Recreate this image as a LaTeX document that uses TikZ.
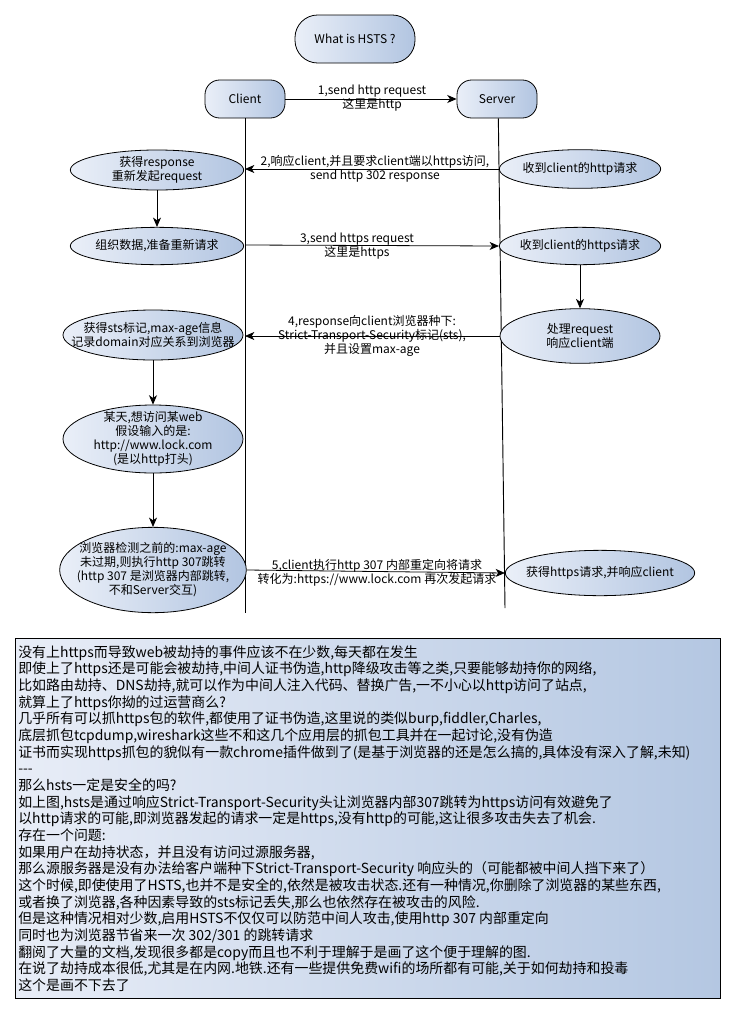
\documentclass[tikz,border=0pt]{standalone}
\usepackage{fontspec}
\setmainfont{Noto Sans CJK SC}
\usetikzlibrary{arrows.meta,shapes.geometric}
\definecolor{gl}{RGB}{234,239,248}
\definecolor{gr}{RGB}{178,197,225}
\definecolor{bl}{RGB}{232,237,247}
\definecolor{br}{RGB}{180,199,226}
\begin{document}
\begin{tikzpicture}[x=0.75pt,y=-0.75pt,
  ell/.style={ellipse, draw=black, line width=0.6pt, left color=gl, right color=gr, inner sep=0pt},
  rbox/.style={rectangle, draw=black, line width=0.6pt, left color=gl, right color=gr},
  txt/.style={font=\fontsize{9}{10.5}\selectfont, align=center, inner sep=0pt},
  lbl/.style={font=\fontsize{9}{10.5}\selectfont, align=center, inner sep=0pt},
  arr/.style={-{Stealth[length=7pt,width=6pt,inset=2pt]}, line width=0.6pt},
  life/.style={line width=0.7pt}
]
\useasboundingbox (0,0) rectangle (735,1010);
% title and actors
\node[rbox, rounded corners=17pt, minimum width=90pt, minimum height=36pt, txt] (title) at (355,39) {What is HSTS ?};
\node[rbox, rounded corners=11pt, minimum width=60pt, minimum height=28.5pt, txt] (Client) at (245,99) {Client};
\node[rbox, rounded corners=11pt, minimum width=60pt, minimum height=28.5pt, txt] (Server) at (497,99) {Server};
% lifelines
\coordinate (cEnd) at (245,613);
\coordinate (sEnd) at (505,608);
\draw[life] (Client.south) -- (cEnd);
\draw[life] ([xshift=1pt]Server.south) -- (sEnd);
\coordinate (c2) at (245,169);
\coordinate (c3) at (245,245);
\coordinate (c4) at (245,336);
% left ellipses
\node[ell, minimum width=130pt, minimum height=30pt] (L1) at (157,170) {};
\node[txt] at (L1) {获得response\\重新发起request};
\node[ell, minimum width=130pt, minimum height=28pt] (L2) at (157,246) {};
\node[txt] at (L2) {组织数据,准备重新请求};
\node[ell, minimum width=135pt, minimum height=37.5pt] (L3) at (153,335) {};
\node[txt] at (L3) {获得sts标记,max-age信息\\记录domain对应关系到浏览器};
\node[ell, minimum width=135pt, minimum height=51pt] (L4) at (153,439) {};
\node[txt] at (L4) {某天,想访问某web\\假设输入的是:\\http://www.lock.com\\(是以http打头)};
\node[ell, minimum width=140pt, minimum height=64pt] (L5) at (153,570) {};
\node[txt] at (L5) {浏览器检测之前的:max-age\\未过期,则执行http 307跳转\\(http 307 是浏览器内部跳转,\\不和Server交互)};
% right ellipses
\node[ell, minimum width=121pt, minimum height=29pt] (R1) at (580,169) {};
\node[txt] at (R1) {收到client的http请求};
\node[ell, minimum width=121pt, minimum height=28pt] (R2) at (580,246) {};
\node[txt] at (R2) {收到client的https请求};
\node[ell, minimum width=120pt, minimum height=41pt] (R3) at (580,336) {};
\node[txt] at (R3) {处理request\\响应client端};
\node[ell, minimum width=142pt, minimum height=34pt] (R5) at (600,573) {};
\node[txt] at (R5) {获得https请求,并响应client};
% vertical arrows
\draw[arr] (L1.south) -- (L2.north);
\draw[arr] (R2.south) -- (R3.north);
\draw[arr] (L3.south) -- (L4.north);
\draw[arr] (L4.south) -- (L5.north);
% messages
\draw[arr] (Client.east) -- (Server.west);
\node[lbl] (m1) at (372,98) {1,send http request\\这里是http};
\draw[arr] (R1.west) -- (c2);
\node[lbl] (m2) at (375,169) {2,响应client,并且要求client端以https访问,\\send http 302 response};
\draw[arr] (c3) -- (R2.west);
\node[lbl] (m3) at (357,246) {3,send https request\\这里是https};
\draw[arr] (R3.west) -- (c4);
\node[lbl] (m4) at (372,336) {4,response向client浏览器种下:\\Strict-Transport-Security标记(sts),\\并且设置max-age};
\draw[arr] (L5.east) -- (R5.west);
\node[lbl] (m5) at (377,573) {5,client执行http 307 内部重定向将请求\\转化为:https://www.lock.com 再次发起请求};
% bottom box
\node[draw=black, line width=0.75pt, rectangle, left color=bl, right color=br, minimum width=528.75pt, minimum height=270pt, anchor=north west, inner sep=0pt] (box) at (15,638) {};
\node[anchor=north west, inner sep=0pt, align=left, font=\fontsize{10.45}{12.5}\selectfont] (boxtext) at (18,645) {%
没有上https而导致web被劫持的事件应该不在少数,每天都在发生\\
即使上了https还是可能会被劫持,中间人证书伪造,http降级攻击等之类,只要能够劫持你的网络,\\
比如路由劫持、DNS劫持,就可以作为中间人注入代码、替换广告,一不小心以http访问了站点,\\
就算上了https你拗的过运营商么?\\
几乎所有可以抓https包的软件,都使用了证书伪造,这里说的类似burp,fiddler,Charles,\\
底层抓包tcpdump,wireshark这些不和这几个应用层的抓包工具并在一起讨论,没有伪造\\
证书而实现https抓包的貌似有一款chrome插件做到了(是基于浏览器的还是怎么搞的,具体没有深入了解,未知)\\
-{}-{}-\\
那么hsts一定是安全的吗?\\
如上图,hsts是通过响应Strict-Transport-Security头让浏览器内部307跳转为https访问有效避免了\\
以http请求的可能,即浏览器发起的请求一定是https,没有http的可能,这让很多攻击失去了机会.\\
存在一个问题:\\
如果用户在劫持状态，并且没有访问过源服务器,\\
那么源服务器是没有办法给客户端种下Strict-Transport-Security 响应头的（可能都被中间人挡下来了）\\
这个时候,即使使用了HSTS,也并不是安全的,依然是被攻击状态.还有一种情况,你删除了浏览器的某些东西,\\
或者换了浏览器,各种因素导致的sts标记丢失,那么也依然存在被攻击的风险.\\
但是这种情况相对少数,启用HSTS不仅仅可以防范中间人攻击,使用http 307 内部重定向\\
同时也为浏览器节省来一次 302/301 的跳转请求\\
翻阅了大量的文档,发现很多都是copy而且也不利于理解于是画了这个便于理解的图.\\
在说了劫持成本很低,尤其是在内网.地铁.还有一些提供免费wifi的场所都有可能,关于如何劫持和投毒\\
这个是画不下去了};
\end{tikzpicture}
\end{document}
